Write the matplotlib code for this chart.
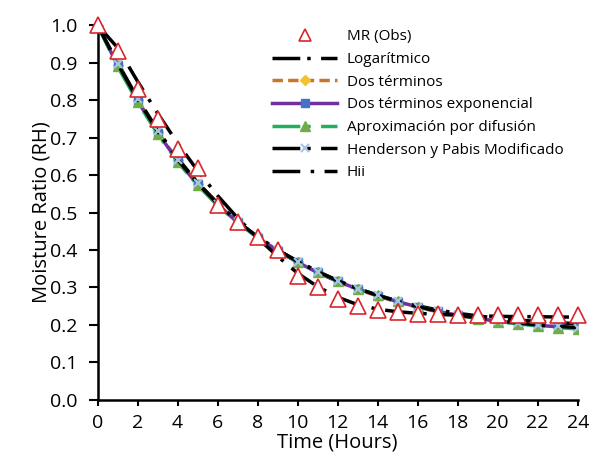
import numpy as np
import matplotlib.pyplot as plt

plt.rcParams['font.family'] = ['Open Sans', 'DejaVu Sans']

hours = np.arange(0, 25)

mr_obs = [1.00, 0.93, 0.83, 0.75, 0.67, 0.62, 0.52, 0.475, 0.435, 0.40,
          0.33, 0.30, 0.27, 0.25, 0.24, 0.235, 0.23, 0.228, 0.227, 0.226,
          0.226, 0.226, 0.226, 0.226, 0.226]

logaritmico = [1.00, 0.90, 0.805, 0.72, 0.645, 0.58, 0.525, 0.475, 0.435, 0.40,
               0.37, 0.343, 0.318, 0.297, 0.279, 0.264, 0.251, 0.24, 0.231, 0.224,
               0.218, 0.213, 0.209, 0.206, 0.203]
dos_terminos = [1.00, 0.895, 0.80, 0.715, 0.64, 0.577, 0.522, 0.475, 0.434, 0.398,
                0.367, 0.34, 0.316, 0.295, 0.277, 0.261, 0.247, 0.235, 0.225, 0.217,
                0.21, 0.204, 0.199, 0.195, 0.192]
dos_exp = [1.00, 0.893, 0.798, 0.713, 0.638, 0.575, 0.52, 0.474, 0.433, 0.398,
           0.367, 0.34, 0.316, 0.296, 0.278, 0.262, 0.248, 0.236, 0.226, 0.217,
           0.21, 0.204, 0.199, 0.195, 0.191]
difusion = [1.00, 0.89, 0.795, 0.71, 0.635, 0.573, 0.519, 0.473, 0.433, 0.398,
            0.368, 0.341, 0.318, 0.297, 0.279, 0.263, 0.249, 0.237, 0.226, 0.217,
            0.209, 0.203, 0.197, 0.193, 0.189]
henderson = [1.00, 0.897, 0.802, 0.717, 0.641, 0.578, 0.523, 0.476, 0.435, 0.40,
             0.369, 0.342, 0.318, 0.297, 0.279, 0.263, 0.249, 0.237, 0.227, 0.218,
             0.211, 0.205, 0.2, 0.196, 0.193]
hii = [1.00, 0.94, 0.85, 0.765, 0.685, 0.612, 0.545, 0.485, 0.432, 0.383,
       0.338, 0.302, 0.274, 0.254, 0.242, 0.235, 0.231, 0.228, 0.226, 0.224,
       0.223, 0.222, 0.222, 0.221, 0.221]

fig, ax = plt.subplots(figsize=(5.95, 4.58), dpi=100)
fig.subplots_adjust(left=0.164, right=0.971, bottom=0.127, top=0.945)

lw = 2.5
ax.plot(hours, mr_obs, linestyle='none', marker='^', markersize=11,
        markerfacecolor='white', markeredgecolor='#D9262C', markeredgewidth=1.2,
        label='MR (Obs)', zorder=10, clip_on=False)
ax.plot(hours, logaritmico, color='black', lw=lw, linestyle=(0, (8, 2, 1, 3)),
        label='Logarítmico')
ax.plot(hours, dos_terminos, color='#C8762F', lw=lw, linestyle=(0, (3, 1.5)),
        marker='D', markersize=5, markerfacecolor='#F2C230', markeredgecolor='#F2C230',
        label='Dos términos')
ax.plot(hours, dos_exp, color='#7030A0', lw=lw, marker='s', markersize=6,
        markerfacecolor='#4472C4', markeredgecolor='#4472C4',
        label='Dos términos exponencial')
ax.plot(hours, difusion, color='#20B060', lw=lw, linestyle=(0, (8, 2, 1, 3)),
        marker='^', markersize=7, markerfacecolor='#70AD47', markeredgecolor='#70AD47',
        label='Aproximación por difusión')
ax.plot(hours, henderson, color='black', lw=lw, linestyle=(0, (8, 2, 1, 3)),
        marker='x', markersize=6, markeredgecolor='#A9C4E8', markeredgewidth=1.5,
        label='Henderson y Pabis Modificado')
ax.plot(hours, hii, color='black', lw=lw, linestyle=(0, (8, 3, 1, 3)),
        label='Hii')

ax.set_xlim(0, 24)
ax.set_ylim(0, 1.0)
ax.set_xticks(np.arange(0, 25, 2))
ax.set_yticks(np.arange(0, 1.01, 0.1))
ax.set_yticklabels([f'{v:.1f}' for v in np.arange(0, 1.01, 0.1)])
ax.tick_params(axis='both', labelsize=14, direction='out', width=1.5,
               colors='black')
ax.tick_params(axis='y', length=6.5, pad=8)
ax.tick_params(axis='x', length=4.5, pad=6)
ax.spines['top'].set_visible(False)
ax.spines['right'].set_visible(False)
ax.spines['left'].set_linewidth(1.8)
ax.spines['bottom'].set_linewidth(1.8)

ax.set_xlabel('Time (Hours)', fontsize=14.5, labelpad=0)
ax.set_ylabel('Moisture Ratio (RH)', fontsize=14.5, labelpad=-1)

leg = ax.legend(loc='upper left', bbox_to_anchor=(0.35, 1.005), borderaxespad=0,
                frameon=False, fontsize=11, handlelength=4.3, labelspacing=0.5,
                handletextpad=0.6)
leg.legend_handles[0].set_markersize(9)

fig.savefig('out.png', dpi=100)
